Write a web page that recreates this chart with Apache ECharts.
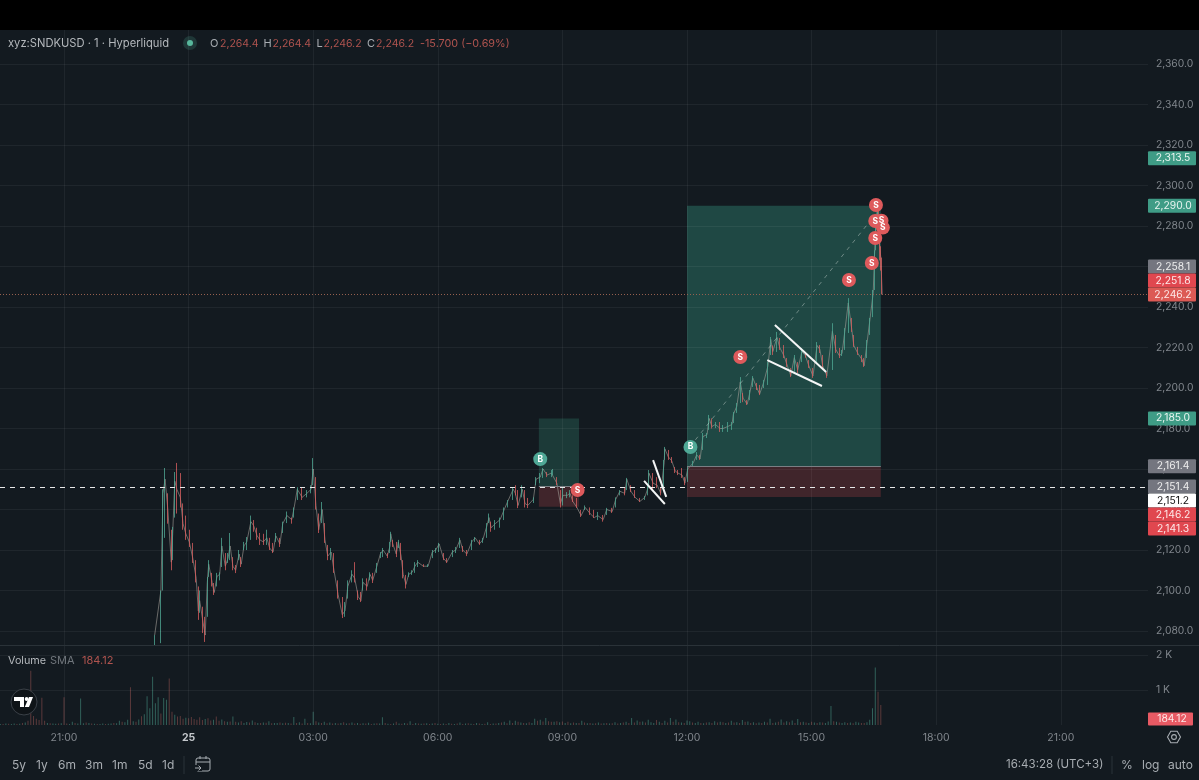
<!DOCTYPE html>
<html>
<head>
<meta charset="utf-8">
<title>xyz:SNDKUSD</title>
<style>html,body{margin:0;padding:0;background:#131a20}#chart{width:1199px;height:780px}</style>
<script src="https://cdn.jsdelivr.net/npm/echarts@6/dist/echarts.min.js"></script>
</head>
<body>
<div id="chart"></div>
<script>
// Minutes counted from 21:00 on the previous day.
const barMinutes = [131,140,143,146,150,155,157,160,163,168,172,176,181,186,191,194,196,201,204,207,209,214,217,221,225,228,233,237,240,244,248,253,256,260,264,270,274,279,283,288,293,297,302,306,312,316,322,329,332,337,344,351,357,360,364,368,373,377,381,386,390,396,402,406,410,416,420,425,429,432,438,442,446,452,457,461,467,471,472,475,480,483,487,490,494,498,503,507,511,519,526,532,537,542,548,553,561,566,572,576,582,589,594,600,605,611,614,617,623,630,636,641,649,652,656,662,666,670,678,682,688,692,698,704,706,712,717,721,727,731,735,741,747,753,760,766,771,779,784,792,797,803,810,813,819,825,832,839,844,845,851,857,862,867,868,873,878,883,887,893,897,901,909,914,919,923,929,932,936,941,948,952,959,965,967,972,977,981,987,991,995,1001,1005,1011,1017,1021,1024,1030,1034,1040,1044,1050,1055,1060,1066,1071,1076,1082,1088,1092,1096,1102,1110,1115,1120,1124,1128,1133,1138,1141,1147,1153,1156,1160,1164,1169,1171,1173,1175,1177,1179,1180,1182];
const barHighs = [2078,2100,2150,2160.5,2148,2130,2131.4,2158.5,2163,2158,2143,2137,2130,2123.5,2115,2102,2100,2092,2087,2106.7,2115,2108.7,2103.7,2108.7,2109,2126,2118.5,2118.5,2128.4,2116.5,2112.6,2120,2116.5,2124,2126.4,2137,2134.8,2131,2128.4,2128,2130,2126,2123.5,2128.4,2126,2134,2139,2136,2141,2151,2150.6,2149.6,2152,2165.4,2156,2138,2143.7,2133.3,2122.5,2121,2118.5,2105,2096.8,2094.3,2105,2110,2114,2100,2099.3,2106,2106,2109,2108.7,2113.6,2119,2121,2118.5,2124,2129,2125,2124,2125,2123.5,2115,2107.7,2109,2110,2114,2115,2113,2113,2120,2121,2123.5,2118.5,2116,2120,2121.5,2126,2122,2120,2125,2126.4,2125,2126,2133.3,2138,2134,2134.8,2136,2141,2144.7,2150.6,2152,2149.6,2152,2149.6,2145.7,2146,2156,2158,2160.5,2158.5,2159.5,2160,2156,2149.6,2150.6,2148.6,2149.6,2147,2145.7,2139.8,2142,2141,2139.8,2138.8,2137.3,2140.8,2140.8,2146,2149.6,2150.6,2155.6,2152,2149.6,2145.7,2146.7,2152,2159.5,2158,2156,2151,2164.5,2170.9,2169.4,2165.9,2161,2159.5,2160.5,2156,2161,2164,2168.4,2167,2177.8,2177.8,2186.7,2185,2183.2,2183.2,2181.7,2183.2,2183.2,2188.2,2192.6,2205.4,2197.5,2194,2199,2205.9,2202.5,2201.5,2204,2212.8,2225.2,2221,2227.7,2224.7,2221.2,2214.8,2209.9,2216.3,2212.8,2219.8,2217.8,2213.8,2209.9,2222.7,2221.2,2216.3,2207.9,2232,2226.2,2219.8,2218.8,2229.6,2244.4,2234.6,2226.2,2220.3,2216.3,2214.8,2223.7,2234.6,2248.4,2268,2285.4,2290.4,2288,2273,2270,2264.4];
const barLows = [2073,2074,2100,2126,2133,2110,2115,2136,2138,2141,2130,2125,2121.5,2113.6,2104,2085.5,2089,2079,2074.6,2087,2106.7,2102,2097.8,2102,2105,2111.6,2110,2113.6,2115,2110,2108.6,2115,2111.6,2120,2120,2125,2129,2125,2122.5,2122.5,2122.5,2120,2118.5,2124,2121.5,2128.4,2133.3,2133,2136,2144.7,2144.7,2146,2148,2152,2140,2128.4,2133.3,2123.5,2115,2115,2108.7,2096,2086.4,2087,2096,2104,2104,2095.3,2094.3,2100,2100,2105,2103.7,2108.7,2116,2116.5,2116,2118.5,2124,2121.5,2116.5,2121,2115,2106,2101,2106.7,2107.7,2108.7,2111.6,2111.6,2111.6,2116,2118.5,2119,2115,2113.6,2116.5,2118.5,2121,2119,2117,2120,2124,2122.5,2123.5,2126,2133.3,2129,2130,2131,2134.8,2141,2144.7,2147,2140.7,2146,2141,2140.7,2143.2,2152,2153,2155.6,2156,2156,2157,2152,2141,2142,2145.6,2146,2143.7,2140.7,2136.3,2139.8,2137.3,2135.8,2134.8,2134,2137.3,2138.3,2141,2147,2147,2149.6,2148.6,2145.7,2143.7,2144.7,2147,2151,2149.6,2150.6,2147,2149.6,2164.5,2164.5,2163,2158,2157,2155.6,2152,2153.6,2161.5,2164.5,2164.5,2169.4,2175.3,2179.3,2180,2180.2,2178.3,2178.3,2178.3,2179.3,2182.7,2187.7,2192.6,2193,2191.6,2194,2200.5,2199,2196.5,2200,2201.5,2216.3,2216.3,2217.8,2218.8,2214.8,2210.4,2205.4,2208,2207.4,2212.8,2215,2209.9,2205,2212.4,2217.3,2209.9,2205,2208.9,2217.3,2214.8,2215.8,2218.8,2227.2,2227.7,2220.3,2216.3,2212.8,2210.4,2214.8,2226.2,2235,2248.4,2268,2283,2273,2263,2258,2246.2];
const barCloses = [2078,2100,2148,2155,2140,2114,2128,2154,2150,2146,2133,2128,2124,2116,2106,2090,2095,2084,2078,2104,2113,2104,2099,2107,2108,2122,2112,2116,2122,2112,2110,2118,2113,2122,2124,2134,2132,2127,2125,2124,2126,2121,2119,2127,2123,2133,2137,2135,2140,2150,2146,2148,2150,2160,2142,2130,2140,2125,2117,2119,2110,2098,2088,2090,2102,2108,2106,2097,2095,2104,2102,2108,2105,2112,2118,2120,2117,2122,2128,2123,2118,2124,2117,2108,2103,2108,2109,2112,2114,2112,2112,2119,2120,2123,2116,2114,2119,2120,2125,2120,2118,2124,2126,2123,2125,2132,2136,2131,2133,2135,2140,2144,2150,2148,2142,2150,2143,2142,2145,2155,2156,2160,2157,2158,2158,2153,2143,2147,2147,2148,2144,2141,2137,2141,2138,2136,2137,2135,2140,2139,2145,2149,2148,2155,2149,2146,2144,2146,2151,2158,2153,2152,2148,2163,2170,2166,2164,2159,2158,2157,2153,2160,2163,2167,2165,2176,2177,2185,2181,2182,2180,2180,2181,2182,2187,2191,2203,2195,2192,2198,2205,2200,2197,2203,2211,2224,2218,2225,2220,2216,2212,2206,2215,2209,2218,2216,2211,2206,2221,2219,2211,2206,2228,2219,2216,2217,2228,2242,2229,2221,2217,2214,2211,2222,2233,2247,2266,2283,2288,2276,2268,2264.4,2246.2];
const firstOpen = 2075;

// Four-minute volume columns, positive when the bar closed up.
const volumeStart = -92;
const volumeStep = 4;
const volumes = [30,-25,40,-35,30,45,-30,35,-60,70,-120,-1550,-260,-180,-140,-780,-120,60,-50,40,
35,-45,50,-790,-40,30,90,-60,45,760,50,-70,60,-40,35,-30,25,40,-30,35,
45,-60,50,120,-90,80,150,-1080,110,-90,160,-250,310,820,480,1380,620,790,-330,770,
720,-1330,-380,290,-240,-260,-180,210,-190,-230,-170,-150,-220,-140,170,-190,-130,150,-240,-120,
160,-110,90,-100,240,-90,70,-110,60,85,-70,130,-80,60,-55,70,-65,110,-50,60,
55,-70,50,-65,60,-45,230,-55,75,-40,180,-60,50,380,-110,70,-60,90,-50,70,
-40,60,-45,55,-80,40,-50,70,-45,60,-35,50,-40,65,-30,45,-50,40,220,-60,
35,-30,45,-90,40,-35,60,-40,110,-30,55,-40,35,-45,50,-30,40,-60,35,-25,
40,-30,55,-35,30,-45,70,-30,40,-50,35,-30,60,-40,30,-35,80,-30,45,-40,
60,-70,90,-50,130,-60,120,-90,70,-60,50,-80,60,180,-120,150,-100,200,-110,-90,
90,-110,80,-100,60,-90,50,-70,60,-60,120,-70,50,-60,40,-50,70,-40,50,-60,
40,-50,80,-45,60,-70,90,-55,200,-70,130,-90,100,-70,150,80,60,-140,90,-60,
120,-70,200,-90,160,-80,70,-60,130,110,-70,60,90,-60,50,-70,80,-60,110,-70,
90,-80,60,-70,120,-70,80,-60,140,-90,100,-60,80,-50,70,-60,90,-70,180,-60,
70,-90,160,-70,110,-80,130,-60,170,-80,90,-70,60,-90,70,-60,80,-70,60,100,
540,-110,90,-70,60,80,-60,70,-50,90,70,-60,-60,80,150,480,1640,-950,-570];

const priceTicks = [2080,2100,2120,2140,2160,2180,2200,2220,2240,2260,2280,2300,2320,2340,2360];
const volumeTicks = [1000,2000];
const timeTicks = [0,180,360,540,720,900,1080,1260,1440];
const timeLabels = ['21:00','25','03:00','06:00','09:00','12:00','15:00','18:00','21:00'];

// Trade markers.
const buyMinutes = [688,905];
const buyPrices = [2164.9,2170.9];
const sellMinutes = [742,977,1134,1167,1172,1172,1181,1183,1173];
const sellPrices = [2149.6,2215.3,2253.3,2261.7,2282.5,2274.1,2282.6,2279.2,2290.4];

// Long-position boxes: start, end, stop, entry, target.
const smallPosition = [686,744,2141.3,2151.4,2185];
const largePosition = [900,1180,2146.2,2161.4,2290];

// Hand-drawn wedge lines: minute, price, minute, price.
const trendLines = [
  [1016,2213.8,1095,2201],
  [1027,2231.1,1101,2207.9],
  [838,2154.1,868,2142.7],
  [851,2164.4,870,2146.2]
];
const forecastLine = [904,2170.9,1169,2284.4];

const lastPrice = 2246.2;
const alertPrice = 2151.2;

// Price scale tags: value, fill, text colour.
const tagValues = [2313.5,2290,2258.1,2251.8,2246.2,2185,2161.4,2151.4,2151.2,2146.2,2141.3];
const tagFills = ['#3f9c86','#3f9c86','#74767f','#e0474f','#dc5a55','#3f9c86','#74767f','#74767f','#ffffff','#e0474f','#e0474f'];
const tagInks = ['#e8f4f0','#e8f4f0','#eeeeee','#fde9e9','#fde9e9','#e8f4f0','#eeeeee','#eeeeee','#111111','#fde9e9','#fde9e9'];
const volumeSma = 184.12;

const FONT = 'Inter';
const GRID = 'rgba(255,255,255,0.055)';
const AXIS_TEXT = '#80868c';
const UP = '#4fa893';
const DOWN = '#d95f5f';
const X_MIN = -92.46, X_MAX = 1566;

const candles = barMinutes.map((m, i) => [
  m, i ? barCloses[i - 1] : firstOpen, barCloses[i], barLows[i], barHighs[i]
]);
const closeTrace = barMinutes.map((m, i) => [m, barCloses[i]]);
const volumeBars = volumes.map((v, i) => [volumeStart + i * volumeStep, Math.abs(v), v >= 0 ? 1 : 0]);

const fmtPrice = v => v.toLocaleString('en-US', {minimumFractionDigits: 1, maximumFractionDigits: 1});

// Tags collide near the last price and the alert level, so they stack away from them.
function stackTags(ys) {
  const out = ys.slice(), H = 14;
  const up = tagValues.indexOf(lastPrice), down = tagValues.indexOf(2151.4);
  for (let i = up - 1; i >= 0; i--) if (out[i] > out[i + 1] - H) out[i] = out[i + 1] - H;
  for (let i = down + 1; i < out.length; i++) if (out[i] < out[i - 1] + H) out[i] = out[i - 1] + H;
  return out;
}

function boxArea(p, profit, loss) {
  return [
    [{xAxis: p[0], yAxis: p[3], itemStyle: {color: profit}}, {xAxis: p[1], yAxis: p[4]}],
    [{xAxis: p[0], yAxis: p[2], itemStyle: {color: loss}}, {xAxis: p[1], yAxis: p[3]}]
  ];
}

const segment = (s, lineStyle) => [{coord: [s[0], s[1]], lineStyle}, {coord: [s[2], s[3]]}];

const text = (x, y, t, color, size, extra) => ({
  type: 'text', x, y, silent: true, z: 50,
  style: Object.assign({text: t, fill: color, font: `${size || 11.2}px ${FONT}`, textVerticalAlign: 'middle'}, extra || {})
});
const rule = (x1, y1, x2, y2, color, w) => ({
  type: 'line', shape: {x1, y1, x2, y2}, style: {stroke: color, lineWidth: w || 1}, z: 50, silent: true
});

const ICON = '#a8adb2';
const VALUE_RED = '#b0544f';

const headerGraphics = [
  {type: 'rect', shape: {x: 0, y: 0, width: 1199, height: 30}, style: {fill: '#000'}, z: 40, silent: true},
  {type: 'line', shape: {x1: 0, y1: 645.5, x2: 1199, y2: 645.5}, style: {stroke: '#2a3238', lineWidth: 1}, z: 40, silent: true},
  text(8, 43.5, 'xyz:SNDKUSD · 1 · Hyperliquid', '#b4b8bc'),
  {type: 'circle', shape: {cx: 190, cy: 43, r: 7}, style: {fill: 'rgba(79,176,148,0.2)'}, z: 50, silent: true},
  {type: 'circle', shape: {cx: 190, cy: 43, r: 3}, style: {fill: '#58b79c'}, z: 50, silent: true},
  text(210, 43.5, 'O', ICON, 11), text(220, 43.5, '2,264.4', VALUE_RED, 10.5),
  text(263.5, 43.5, 'H', ICON, 11), text(272.5, 43.5, '2,264.4', VALUE_RED, 10.5),
  text(316.5, 43.5, 'L', ICON, 11), text(323.5, 43.5, '2,246.2', VALUE_RED, 10.5),
  text(367, 43.5, 'C', ICON, 11), text(376, 43.5, '2,246.2', VALUE_RED, 10.5),
  text(420, 43.5, '-15.700 (−0.69%)', VALUE_RED, 10.8),
  text(8, 660.5, 'Volume', '#b4b8bc', 10.8),
  text(50, 660.5, 'SMA', '#6f757b', 11),
  text(82, 660.5, '184.12', VALUE_RED, 11)
];

const toolbarGraphics = [
  ...[['5y',12],['1y',36],['6m',58],['3m',85],['1m',112],['5d',138],['1d',162]].map(r => text(r[1], 765, r[0], ICON, 12)),
  rule(184, 756, 184, 774, '#2a3238'),
  // Go-to-date calendar icon.
  {type: 'rect', shape: {x: 196, y: 758, width: 14, height: 13, r: 2}, style: {stroke: ICON, fill: 'none', lineWidth: 1}, z: 50, silent: true},
  rule(196, 762, 210, 762, ICON),
  rule(200, 756, 200, 759, ICON), rule(206, 756, 206, 759, ICON),
  {type: 'rect', shape: {x: 194, y: 765, width: 8, height: 6}, style: {fill: '#131a20'}, z: 50, silent: true},
  rule(195, 768, 201, 768, ICON),
  {type: 'polyline', shape: {points: [[198.6, 765.6], [201, 768], [198.6, 770.4]]}, style: {stroke: ICON, fill: 'none', lineWidth: 1}, z: 51, silent: true},
  text(1006, 765, '16:43:28 (UTC+3)', ICON, 11.5),
  rule(1112, 756, 1112, 774, '#2a3238'),
  text(1121, 765, '%', ICON, 12),
  text(1142, 765, 'log', ICON, 12),
  text(1168, 765, 'auto', ICON, 12),
  // Settings button on the scale corner.
  {type: 'polygon', shape: {points: [[1167.5,737],[1170.8,731.2],[1177.2,731.2],[1180.5,737],[1177.2,742.8],[1170.8,742.8]]}, style: {stroke: ICON, fill: 'none', lineWidth: 1.1}, z: 50, silent: true},
  {type: 'circle', shape: {cx: 1174, cy: 737, r: 2.4}, style: {stroke: ICON, fill: 'none', lineWidth: 1.1}, z: 50, silent: true},
  // Logo badge.
  {type: 'circle', shape: {cx: 24, cy: 702, r: 13}, style: {fill: '#0f1418', stroke: '#3a4047', lineWidth: 1}, z: 50, silent: true},
  {type: 'polygon', shape: {points: [[14,697],[24,697],[24,707],[20,707],[20,701],[14,701]]}, style: {fill: '#fff'}, z: 51, silent: true},
  {type: 'circle', shape: {cx: 26.6, cy: 699, r: 1.9}, style: {fill: '#fff'}, z: 51, silent: true},
  {type: 'polygon', shape: {points: [[29,697],[33,697],[29,707],[24.8,707]]}, style: {fill: '#fff'}, z: 51, silent: true}
];

const option = {
  animation: false,
  backgroundColor: '#131a20',
  textStyle: {fontFamily: FONT},
  graphic: {elements: headerGraphics.concat(toolbarGraphics)},
  grid: [
    {left: 0, top: 30, width: 1148, height: 615},
    {left: 0, top: 646, width: 1148, height: 79}
  ],
  xAxis: [
    {type: 'value', gridIndex: 0, min: X_MIN, max: X_MAX, show: false, splitLine: {show: false}},
    {type: 'value', gridIndex: 1, min: X_MIN, max: X_MAX,
      axisLine: {show: false}, axisTick: {show: false}, splitLine: {show: false},
      axisLabel: {
        customValues: timeTicks, margin: 7, fontFamily: FONT, fontSize: 10.5, color: AXIS_TEXT,
        formatter: v => {
          const t = timeLabels[timeTicks.indexOf(v)] || '';
          return t === '25' ? `{b|${t}}` : t;
        },
        rich: {b: {fontWeight: 700, color: '#c4c8cc', fontSize: 10.5, fontFamily: FONT}}
      }}
  ],
  yAxis: [
    {type: 'value', gridIndex: 0, position: 'right', min: 2073.09, max: 2376.79, scale: true,
      axisLine: {show: false}, axisTick: {show: false}, splitLine: {show: false},
      axisLabel: {customValues: priceTicks, margin: 8, fontFamily: FONT, fontSize: 10.3, color: AXIS_TEXT,
        verticalAlignMinLabel: 'middle', formatter: v => fmtPrice(v)}},
    {type: 'value', gridIndex: 1, position: 'right', min: 0, max: 2257,
      axisLine: {show: false}, axisTick: {show: false}, splitLine: {show: false},
      axisLabel: {customValues: volumeTicks, margin: 8, fontFamily: FONT, fontSize: 10.3, color: AXIS_TEXT, formatter: v => (v / 1000) + ' K'}}
  ],
  series: [
    // Grid, position boxes and horizontal levels sit under the candles.
    {type: 'line', xAxisIndex: 0, yAxisIndex: 0, data: [], z: 1, silent: true,
      markLine: {silent: true, symbol: 'none', label: {show: false}, animation: false,
        lineStyle: {color: GRID, type: 'solid', width: 1},
        data: priceTicks.map(v => ({yAxis: v})).concat(timeTicks.map(v => ({xAxis: v})))}},
    {type: 'line', xAxisIndex: 0, yAxisIndex: 0, data: [], z: 2, silent: true,
      markArea: {silent: true, animation: false, label: {show: false},
        data: boxArea(smallPosition, 'rgba(65,173,142,0.22)', 'rgba(169,63,69,0.3)')
          .concat(boxArea(largePosition, 'rgba(60,178,152,0.3)', 'rgba(169,63,69,0.3)'))}},
    {type: 'line', xAxisIndex: 0, yAxisIndex: 0, data: [], z: 3, silent: true,
      markLine: {silent: true, symbol: 'none', label: {show: false}, animation: false,
        data: [
          [{coord: [largePosition[0], largePosition[3]]}, {coord: [largePosition[1], largePosition[3]]}],
          [{coord: [smallPosition[0], smallPosition[3]]}, {coord: [smallPosition[1], smallPosition[3]]}]
        ],
        lineStyle: {color: '#7a7f84', type: 'solid', width: 1}}},
    // Closes joined thinly so the one-minute tape reads as a continuous trace.
    {type: 'line', name: 'Close', xAxisIndex: 0, yAxisIndex: 0, z: 3, silent: true, data: closeTrace,
      showSymbol: false, lineStyle: {color: '#a39f97', width: 1, opacity: 0.6}},
    {type: 'candlestick', name: 'SNDKUSD', xAxisIndex: 0, yAxisIndex: 0, z: 4, silent: true,
      barWidth: 1, large: false, progressive: 0,
      encode: {x: 0, y: [1, 2, 3, 4]}, data: candles,
      itemStyle: {color: UP, color0: DOWN, borderColor: UP, borderColor0: DOWN, borderWidth: 1, opacity: 0.78}},
    {type: 'line', xAxisIndex: 0, yAxisIndex: 0, data: [], z: 5, silent: true,
      markLine: {silent: true, symbol: 'none', label: {show: false}, animation: false,
        data: [
          {yAxis: alertPrice, lineStyle: {color: '#e8e8e8', type: [5, 5], width: 1}},
          {yAxis: lastPrice, lineStyle: {color: '#96604f', type: [1, 2], width: 1}},
          segment(forecastLine, {color: 'rgba(205,215,210,0.45)', type: [4, 5], width: 1})
        ]}},
    {type: 'line', xAxisIndex: 0, yAxisIndex: 0, data: [], z: 6, silent: true,
      markLine: {silent: true, symbol: 'none', label: {show: false}, animation: false,
        lineStyle: {color: '#f4f6f6', type: 'solid', width: 2},
        data: trendLines.map(s => segment(s))}},
    {type: 'scatter', name: 'Buy', xAxisIndex: 0, yAxisIndex: 0, z: 7, silent: true, clip: false,
      symbolSize: 14, itemStyle: {color: '#4fa896', opacity: 1},
      data: buyMinutes.map((m, i) => [m, buyPrices[i]]),
      label: {show: true, position: 'inside', formatter: 'B', color: '#fff', fontFamily: FONT, fontSize: 8.5, fontWeight: 700}},
    {type: 'scatter', name: 'Sell', xAxisIndex: 0, yAxisIndex: 0, z: 8, silent: true, clip: false,
      symbolSize: 14, itemStyle: {color: '#de5a5c', opacity: 1},
      data: sellMinutes.map((m, i) => [m, sellPrices[i]]),
      label: {show: true, position: 'inside', formatter: 'S', color: '#fff', fontFamily: FONT, fontSize: 8.5, fontWeight: 700}},
    // Right-hand price tags painted over the axis labels.
    {type: 'custom', xAxisIndex: 0, yAxisIndex: 0, z: 20, silent: true, clip: false,
      encode: {x: 0, y: 1},
      data: tagValues.map((v, i) => [X_MAX, v, i]),
      renderItem(params, api) {
        const i = api.value(2);
        const ys = stackTags(tagValues.map(v => api.coord([X_MAX, v])[1]));
        const y = ys[i], x = api.coord([X_MAX, 2200])[0];
        return {type: 'group', children: [
          {type: 'rect', shape: {x: x, y: y - 7, width: 48, height: 14, r: 1}, style: {fill: tagFills[i]}},
          {type: 'text', x: x + 25, y: y, style: {text: fmtPrice(tagValues[i]), fill: tagInks[i], font: `10.3px ${FONT}`, textAlign: 'center', textVerticalAlign: 'middle'}}
        ]};
      }},
    // Volume pane.
    {type: 'line', xAxisIndex: 1, yAxisIndex: 1, data: [], z: 1, silent: true,
      markLine: {silent: true, symbol: 'none', label: {show: false}, animation: false,
        lineStyle: {color: GRID, type: 'solid', width: 1},
        data: volumeTicks.map(v => ({yAxis: v})).concat(timeTicks.map(v => ({xAxis: v})))}},
    {type: 'custom', name: 'Volume', xAxisIndex: 1, yAxisIndex: 1, z: 3, silent: true,
      encode: {x: 0, y: 1}, data: volumeBars,
      renderItem(params, api) {
        const base = api.coord([api.value(0), 0]), top = api.coord([api.value(0), api.value(1)]);
        return {type: 'rect', shape: {x: base[0] - 0.5, y: top[1], width: 1, height: base[1] - top[1]},
          style: {fill: api.value(2) ? 'rgba(79,168,147,0.5)' : 'rgba(190,100,95,0.42)'}};
      }},
    {type: 'custom', xAxisIndex: 1, yAxisIndex: 1, z: 20, silent: true, clip: false,
      encode: {x: 0, y: 1}, data: [[X_MAX, volumeSma]],
      renderItem(params, api) {
        const p = api.coord([api.value(0), api.value(1)]);
        return {type: 'group', children: [
          {type: 'rect', shape: {x: p[0], y: p[1] - 6, width: 45, height: 13, r: 1}, style: {fill: '#e85a64'}},
          {type: 'text', x: p[0] + 24, y: p[1] + 0.5, style: {text: volumeSma.toFixed(2), fill: '#fde9e9', font: `10.3px ${FONT}`, textAlign: 'center', textVerticalAlign: 'middle'}}
        ]};
      }}
  ]
};

const chart = echarts.init(document.getElementById('chart'), null, {renderer: 'canvas'});
chart.setOption(option);
</script>
</body>
</html>
